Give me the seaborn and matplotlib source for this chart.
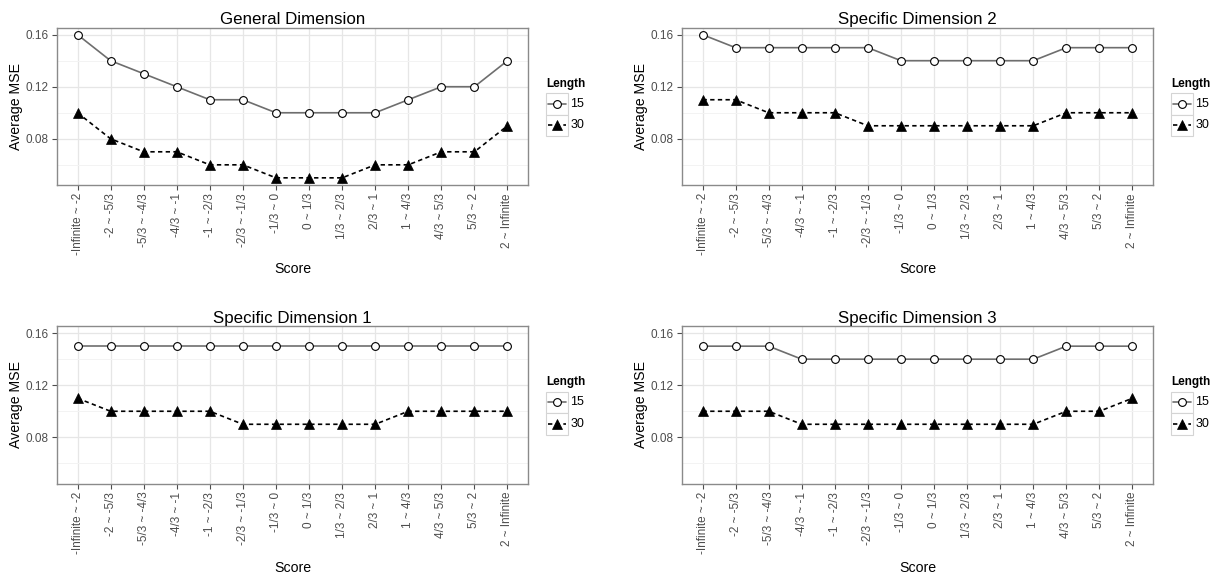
import matplotlib
matplotlib.use("Agg")
import matplotlib.pyplot as plt
from matplotlib.lines import Line2D
from matplotlib.patches import Rectangle
import pandas as pd
import seaborn as sns

# Score intervals on the x axis
score_labels = ["-Infinite ~ -2", "-2 ~ -5/3", "-5/3 ~ -4/3", "-4/3 ~ -1", "-1 ~ -2/3",
                "-2/3 ~ -1/3", "-1/3 ~ 0", "0 ~ 1/3", "1/3 ~ 2/3", "2/3 ~ 1",
                "1 ~ 4/3", "4/3 ~ 5/3", "5/3 ~ 2", "2 ~ Infinite"]
lengths = ["15", "30"]

# Average MSE per score interval, test length 15 and 30
general_15 = [0.16, 0.14, 0.13, 0.12, 0.11, 0.11, 0.10, 0.10, 0.10, 0.10, 0.11, 0.12, 0.12, 0.14]
general_30 = [0.10, 0.08, 0.07, 0.07, 0.06, 0.06, 0.05, 0.05, 0.05, 0.06, 0.06, 0.07, 0.07, 0.09]
spec1_15 = [0.15, 0.15, 0.15, 0.15, 0.15, 0.15, 0.15, 0.15, 0.15, 0.15, 0.15, 0.15, 0.15, 0.15]
spec1_30 = [0.11, 0.10, 0.10, 0.10, 0.10, 0.09, 0.09, 0.09, 0.09, 0.09, 0.10, 0.10, 0.10, 0.10]
spec2_15 = [0.16, 0.15, 0.15, 0.15, 0.15, 0.15, 0.14, 0.14, 0.14, 0.14, 0.14, 0.15, 0.15, 0.15]
spec2_30 = [0.11, 0.11, 0.10, 0.10, 0.10, 0.09, 0.09, 0.09, 0.09, 0.09, 0.09, 0.10, 0.10, 0.10]
spec3_15 = [0.15, 0.15, 0.15, 0.14, 0.14, 0.14, 0.14, 0.14, 0.14, 0.14, 0.14, 0.15, 0.15, 0.15]
spec3_30 = [0.10, 0.10, 0.10, 0.09, 0.09, 0.09, 0.09, 0.09, 0.09, 0.09, 0.09, 0.10, 0.10, 0.11]

panels = [
    ("General Dimension", general_15, general_30),
    ("Specific Dimension 2", spec2_15, spec2_30),
    ("Specific Dimension 1", spec1_15, spec1_30),
    ("Specific Dimension 3", spec3_15, spec3_30),
]

sns.set_theme(style="whitegrid")
plt.rcParams["font.family"] = ["Liberation Sans", "DejaVu Sans"]

W, H = 1222, 576
fig = plt.figure(figsize=(W / 100, H / 100), dpi=100)


def fx(x):
    return x / W


def fy(y):
    return 1 - y / H


# panel rectangles in pixels: left, top, right, bottom
rects = [(57, 27.5, 528, 185), (682, 27.5, 1153, 185),
         (57, 326, 528, 483.5), (682, 326, 1153, 483.5)]

grid_major = "#e6e6e6"
grid_minor = "#f3f3f3"
tick_text = "#4d4d4d"
line15 = "#6e6e6e"
dash30 = (0, (2.6, 2.0))

styles = {
    "15": dict(color=line15, ls="-", marker="o", ms=5.6, mfc="white", mec="black", mew=0.8),
    "30": dict(color="black", ls=dash30, marker="^", ms=7.6, mfc="black", mec="black", mew=0.5),
}

for (title, v15, v30), (l, t, r, b) in zip(panels, rects):
    pw, ph = r - l, b - t
    ax = fig.add_axes([fx(l), fy(b), pw / W, ph / H])
    df = pd.DataFrame({
        "x": list(range(len(score_labels))) * 2,
        "MSE": v15 + v30,
        "Length": ["15"] * len(v15) + ["30"] * len(v30),
    })
    for key in lengths:
        st = styles[key]
        sns.lineplot(data=df[df.Length == key], x="x", y="MSE", ax=ax,
                     color=st["color"], lw=1.2, linestyle=st["ls"],
                     marker=st["marker"], markersize=st["ms"],
                     markerfacecolor=st["mfc"], markeredgecolor=st["mec"],
                     markeredgewidth=st["mew"], zorder=3, legend=False)

    ax.set_xlim(-0.62, len(score_labels) - 1 + 0.62)
    ax.set_ylim(0.0445, 0.1655)
    ax.set_xticks(range(len(score_labels)))
    ax.set_xticklabels(score_labels, rotation=90, fontsize=8.5, color=tick_text)
    ax.set_yticks([0.08, 0.12, 0.16])
    ax.set_yticklabels(["0.08", "0.12", "0.16"], fontsize=8.5, color=tick_text)
    ax.set_yticks([0.06, 0.10, 0.14], minor=True)
    ax.grid(True, which="major", color=grid_major, lw=0.9)
    ax.grid(True, which="minor", color=grid_minor, lw=0.7)
    ax.set_facecolor("white")
    for s in ax.spines.values():
        s.set_color("#8a8a8a")
        s.set_linewidth(1.0)
    ax.tick_params(axis="both", which="major", length=3.5, width=0.8, color="#4d4d4d",
                   pad=2.4, bottom=True, left=True)
    ax.tick_params(axis="both", which="minor", length=0)

    # axis titles placed a fixed pixel distance from the panel
    ax.set_xlabel("Score", fontsize=10.2, color="black")
    ax.xaxis.set_label_coords(0.5, -77 / ph)
    ax.xaxis.label.set_va("top")
    ax.set_ylabel("Average MSE", fontsize=10.2, color="black")
    ax.yaxis.set_label_coords(-34 / pw, 0.5)
    ax.set_title(title, fontsize=12.2, color="black", pad=2.5)

    # legend: title, boxed keys and labels to the right of the panel
    lx = r + 18
    ty = t + 56.5
    fig.text(fx(lx), fy(ty), "Length", fontsize=8.5, fontweight="bold",
             ha="left", va="center", color="black")
    for i, key in enumerate(lengths):
        top = t + 65.5 + i * 21.5
        fig.add_artist(Rectangle((fx(lx), fy(top + 21.5)), 21.5 / W, 21.5 / H,
                                 transform=fig.transFigure, facecolor="white",
                                 edgecolor="#d4d4d4", lw=0.8))
        st = styles[key]
        cy = fy(top + 10.75)
        fig.add_artist(Line2D([fx(lx + 2), fx(lx + 19.5)], [cy, cy],
                              transform=fig.transFigure, color=st["color"], lw=1.2,
                              linestyle=st["ls"]))
        fig.add_artist(Line2D([fx(lx + 10.75)], [cy], transform=fig.transFigure,
                              linestyle="none", marker=st["marker"], markersize=st["ms"],
                              markerfacecolor=st["mfc"], markeredgecolor=st["mec"],
                              markeredgewidth=st["mew"]))
        fig.text(fx(lx + 24.5), cy, key, fontsize=9, ha="left", va="center",
                 color="black")

fig.savefig("out.png", dpi=100, facecolor="white")
